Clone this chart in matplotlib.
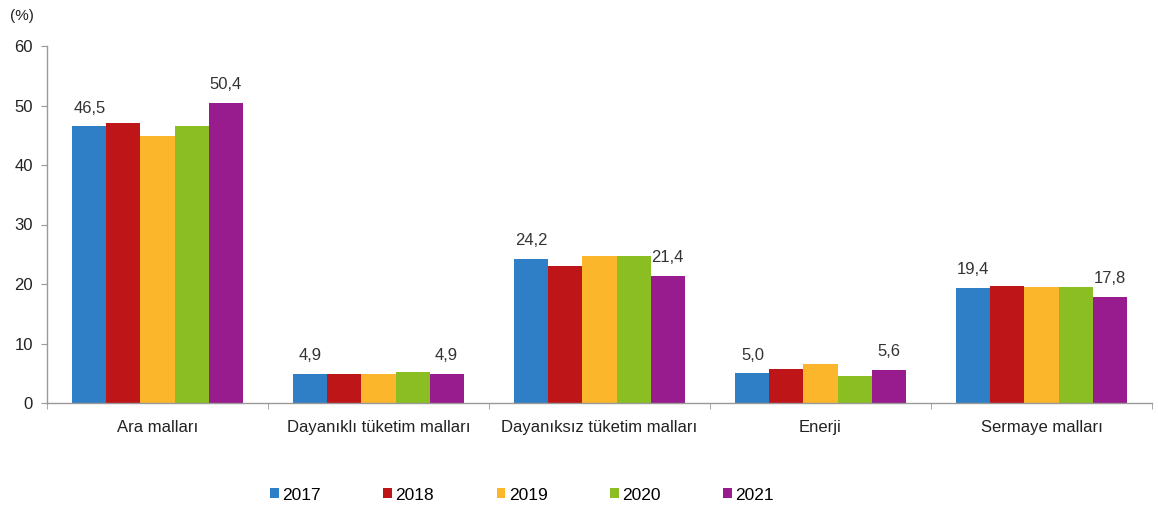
import matplotlib
matplotlib.use("Agg")
import matplotlib.pyplot as plt
import numpy as np

categories = ["Ara malları", "Dayanıklı tüketim malları", "Dayanıksız tüketim malları", "Enerji", "Sermaye malları"]
years = ["2017", "2018", "2019", "2020", "2021"]
v2017 = [46.5, 4.9, 24.2, 5.0, 19.4]
v2018 = [47.1, 4.9, 23.0, 5.7, 19.6]
v2019 = [44.8, 4.9, 24.7, 6.5, 19.5]
v2020 = [46.5, 5.2, 24.7, 4.5, 19.5]
v2021 = [50.4, 4.9, 21.4, 5.6, 17.8]
series = [v2017, v2018, v2019, v2020, v2021]
colors = ["#2E7FC6", "#BE1519", "#FBB62B", "#8BBE22", "#981C8E"]

plt.rcParams['font.family'] = ['Liberation Sans', 'DejaVu Sans']

fig = plt.figure(figsize=(11.58, 5.15), dpi=100)
ax = fig.add_axes([47/1158, 1-403/515, (1152-47)/1158, (403-46)/515])

x = np.arange(len(categories))
w = 0.154
for i, (vals, c, yr) in enumerate(zip(series, colors, years)):
    pos = x + (i - 2) * w
    ax.bar(pos, vals, width=w, color=c, label=yr, edgecolor='none')
    if i in (0, 4):
        for px, v in zip(pos, vals):
            ax.text(px, v + 1.8, f"{v:.1f}".replace('.', ','), ha='center', va='bottom',
                    fontsize=12, color='#333333')

ax.set_xlim(-0.5, 4.5)
ax.set_ylim(0, 60)
ax.set_yticks(range(0, 61, 10))
ax.set_xticks(x)
ax.set_xticklabels(categories)
ax.set_xticks(np.arange(-0.5, 5.0, 1.0), minor=True)
ax.tick_params(axis='x', which='major', length=0, labelsize=12, pad=12, colors='#222222')
ax.tick_params(axis='x', which='minor', length=4, color='#999999', direction='out')
ax.tick_params(axis='y', length=4, color='#999999', labelcolor='#222222', labelsize=12, pad=6)
for s in ['top', 'right']:
    ax.spines[s].set_visible(False)
for s in ['left', 'bottom']:
    ax.spines[s].set_color('#999999')
    ax.spines[s].set_linewidth(1.0)

fig.text(10/1158, 1-16/515, "(%)", fontsize=11, ha='left', va='center', color='#222222')

handles, labels = ax.get_legend_handles_labels()
fig.legend(handles, labels, loc='center', bbox_to_anchor=(522/1158, 1-495/515), ncol=5,
           frameon=False, fontsize=12.5, handlelength=0.5, handleheight=0.5,
           handletextpad=0.2, columnspacing=3.6)

fig.savefig("out.png", dpi=100)
